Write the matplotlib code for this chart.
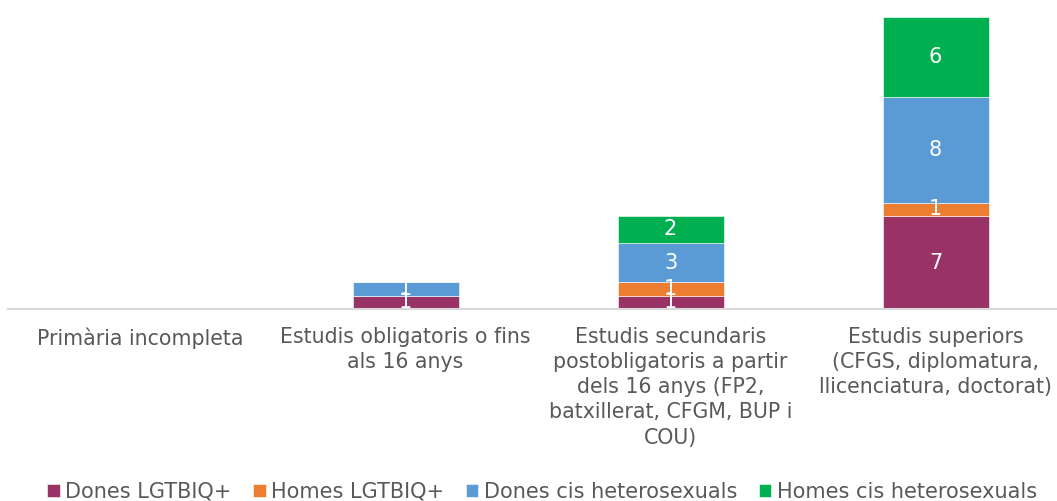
import matplotlib
matplotlib.use("Agg")
import matplotlib.pyplot as plt
import numpy as np

categories = [
    "Primària incompleta",
    "Estudis obligatoris o fins\nals 16 anys",
    "Estudis secundaris\npostobligatoris a partir\ndels 16 anys (FP2,\nbatxillerat, CFGM, BUP i\nCOU)",
    "Estudis superiors\n(CFGS, diplomatura,\nllicenciatura, doctorat)",
]
series_names = ["Dones LGTBIQ+", "Homes LGTBIQ+", "Dones cis heterosexuals", "Homes cis heterosexuals"]
dones_lgtbiq = [0, 1, 1, 7]
homes_lgtbiq = [0, 0, 1, 1]
dones_cis = [0, 1, 3, 8]
homes_cis = [0, 0, 2, 6]
colors = ["#993366", "#ED7D31", "#5B9BD5", "#00B050"]

plt.rcParams['font.family'] = ['DejaVu Sans']
W, H = 1057, 501
fig = plt.figure(figsize=(W / 100, H / 100), dpi=100)
ax = fig.add_axes([8 / W, (H - 309) / H, 1060 / W, (309 - 17) / H])

x = np.arange(len(categories))
bottom = np.zeros(len(categories))
for name, vals, col in zip(series_names, [dones_lgtbiq, homes_lgtbiq, dones_cis, homes_cis], colors):
    vals = np.array(vals, dtype=float)
    ax.bar(x, vals, 0.4, bottom=bottom, color=col, label=name, edgecolor='white', linewidth=0.4)
    for xi, v, b in zip(x, vals, bottom):
        if v > 0:
            ax.text(xi, b + v / 2, f"{int(v)}", ha='center', va='center', color='white', fontsize=15)
    bottom += vals

ax.set_xlim(-0.5, len(categories) - 0.5)
ax.set_ylim(0, 22)
ax.set_yticks([])
ax.set_xticks(x)
ax.set_xticklabels(categories, fontsize=14.8, color='#595959', linespacing=1.32)
ax.tick_params(axis='x', length=0, pad=13)
for s in ['top', 'right', 'left']:
    ax.spines[s].set_visible(False)
ax.spines['bottom'].set_color('#d9d9d9')
ax.spines['bottom'].set_linewidth(1.5)

handles, labels = ax.get_legend_handles_labels()
leg = fig.legend(handles, labels, loc='center', bbox_to_anchor=(542 / W, 9 / H), ncol=4,
                 frameon=False, fontsize=15, handlelength=0.6, handleheight=0.6,
                 handletextpad=0.25, columnspacing=1.05, borderpad=0)
for t in leg.get_texts():
    t.set_color('#595959')

fig.savefig("out.png", dpi=100)
